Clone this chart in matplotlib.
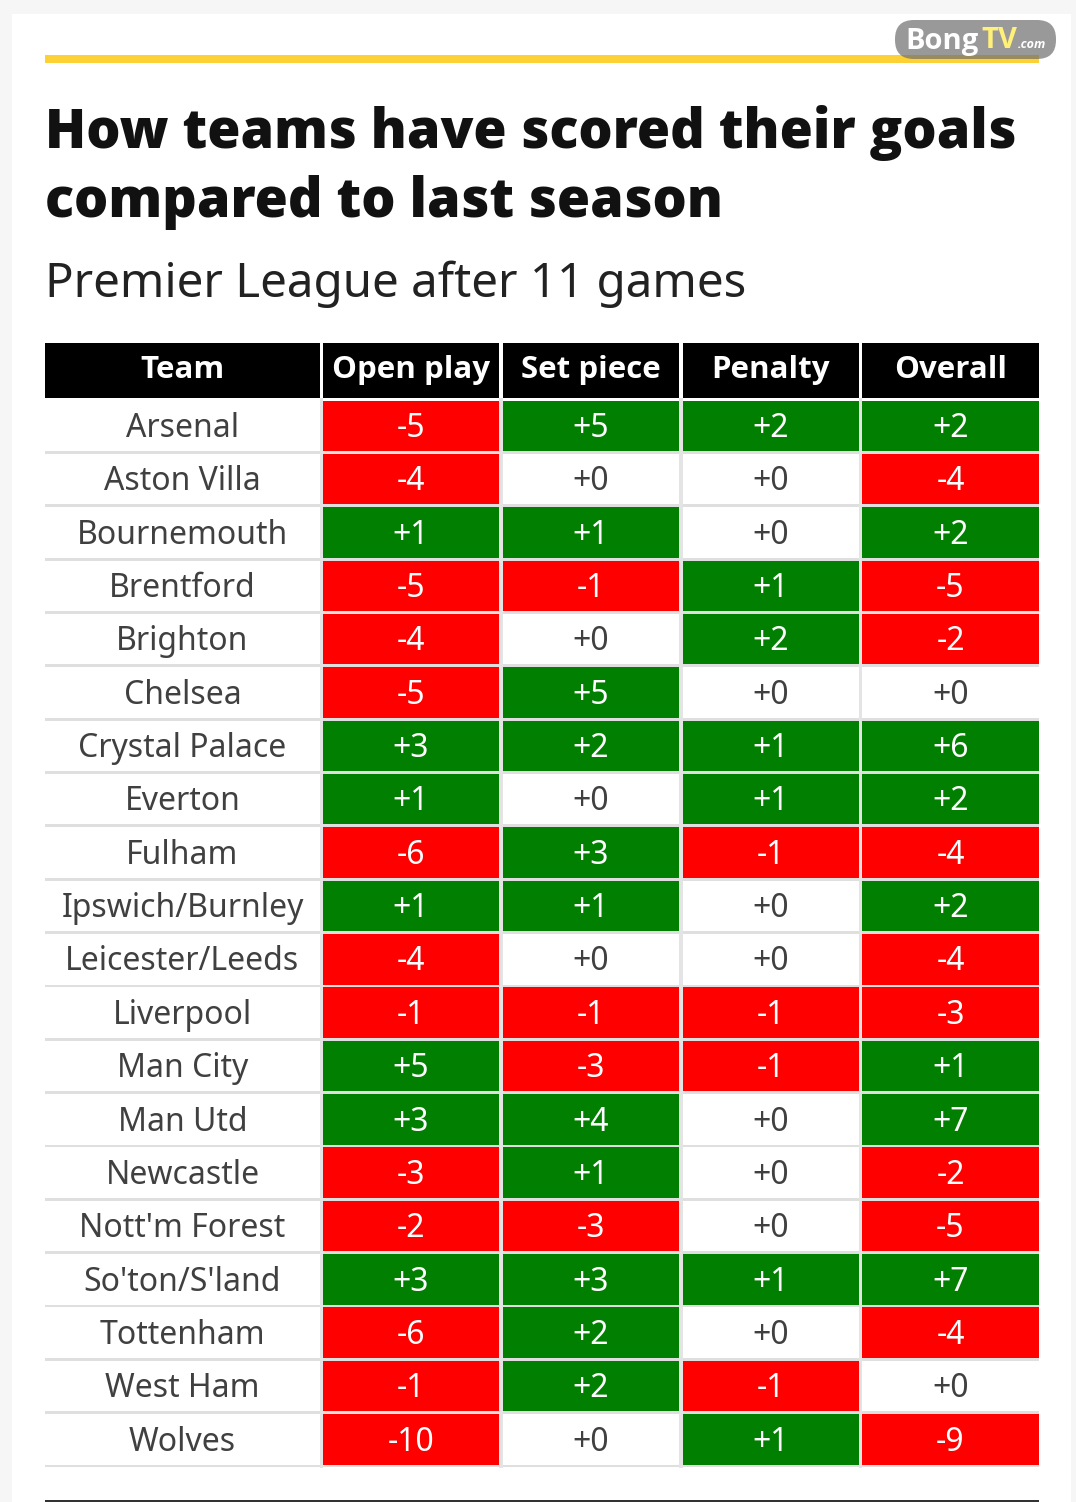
import matplotlib
matplotlib.use("Agg")
import matplotlib.pyplot as plt
from matplotlib.patches import Rectangle, FancyBboxPatch

plt.rcParams['font.family'] = ['Noto Sans', 'DejaVu Sans']
bold_font = ['Open Sans', 'DejaVu Sans']

# ---------- data ----------
teams = ["Arsenal", "Aston Villa", "Bournemouth", "Brentford", "Brighton", "Chelsea",
         "Crystal Palace", "Everton", "Fulham", "Ipswich/Burnley", "Leicester/Leeds",
         "Liverpool", "Man City", "Man Utd", "Newcastle", "Nott'm Forest", "So'ton/S'land",
         "Tottenham", "West Ham", "Wolves"]
columns = ["Team", "Open play", "Set piece", "Penalty", "Overall"]
open_play = [-5, -4, 1, -5, -4, -5, 3, 1, -6, 1, -4, -1, 5, 3, -3, -2, 3, -6, -1, -10]
set_piece = [5, 0, 1, -1, 0, 5, 2, 0, 3, 1, 0, -1, -3, 4, 1, -3, 3, 2, 2, 0]
penalty = [2, 0, 0, 1, 2, 0, 1, 1, -1, 0, 0, -1, -1, 0, 0, 0, 1, 0, -1, 1]
overall = [2, -4, 2, -5, -2, 0, 6, 2, -4, 2, -4, -3, 1, 7, -2, -5, 7, -4, 0, -9]

# ---------- layout in pixels ----------
W, H = 1076, 1502
col_left = [45, 323, 503, 683, 862]
col_right = [320, 499, 679, 859, 1039]
head_top, head_bot = 343, 398
row_top = 400.5
row_h = 53.35

fig = plt.figure(figsize=(W / 100, H / 100), dpi=100, facecolor="#f6f6f6")
ax = fig.add_axes([0, 0, 1, 1])
ax.set_xlim(0, W)
ax.set_ylim(H, 0)
ax.axis("off")

# card
ax.add_patch(Rectangle((12, 14), 1059, H - 14, color="white", lw=0, zorder=0))

# yellow rule
ax.add_patch(Rectangle((45, 55), 994, 8, color="#fdd135", lw=0, zorder=1))

# titles
ax.text(45, 133, "How teams have scored their goals", fontsize=38.8, fontweight=800,
        family=bold_font, color="#111111", va="center", ha="left")
ax.text(45, 203, "compared to last season", fontsize=38.8, fontweight=800,
        family=bold_font, color="#111111", va="center", ha="left")
ax.text(45, 284, "Premier League after 11 games", fontsize=34.2,
        color="#222222", va="center", ha="left")

# header
for left, right, name in zip(col_left, col_right, columns):
    ax.add_patch(Rectangle((left, head_top), right - left, head_bot - head_top,
                           color="black", lw=0, zorder=2))
    ax.text((left + right) / 2, 370, name, fontsize=22.5, fontweight="bold", family=bold_font,
            color="white", ha="center", va="center", zorder=3)

# rows
series = [open_play, set_piece, penalty, overall]
for i, team in enumerate(teams):
    top = row_top + i * row_h
    mid = top + 28
    ax.add_patch(Rectangle((45, top + 50.5), 994, 2.8, color="#dfdfdf", lw=0, zorder=1))
    ax.text(182.5, mid, team, fontsize=23, color="#404040", ha="center", va="center", zorder=3)
    for j, vals in enumerate(series):
        v = vals[i]
        left, right = col_left[j + 1], col_right[j + 1]
        if v > 0:
            colour, txt = "#007f00", "white"
        elif v < 0:
            colour, txt = "#fe0000", "white"
        else:
            colour, txt = "white", "#404040"
        ax.add_patch(Rectangle((left, top), right - left, 50.5, color=colour, lw=0, zorder=2))
        ax.text((left + right) / 2, mid, f"{v:+d}", fontsize=23, color=txt,
                ha="center", va="center", zorder=3)

# column gaps
for left, right in zip(col_right[:-1], col_left[1:]):
    ax.add_patch(Rectangle((left, head_bot), right - left, row_top + 20 * row_h - head_bot,
                           color="#e4e4e4", lw=0, zorder=1.5))

# bottom rule
ax.add_patch(Rectangle((45, 1500), 994, 2, color="#333333", lw=0, zorder=1))

# watermark
ax.add_patch(FancyBboxPatch((895, 20), 161, 39, boxstyle="round,pad=0,rounding_size=19",
                            facecolor="#6e6e6e", alpha=0.7, lw=0, zorder=5))
ax.text(905, 41, "Bong", fontsize=21, fontweight="bold", family=bold_font, color="white",
        va="center", zorder=6)
ax.text(981, 41, "TV", fontsize=21, fontweight="bold", family=bold_font, color="#fff07a",
        va="center", zorder=6)
ax.text(1018, 45, ".com", fontsize=9, fontweight="bold", family=bold_font, style="italic",
        color="white", va="center", zorder=6)

fig.savefig("out.png", dpi=100, facecolor=fig.get_facecolor())
